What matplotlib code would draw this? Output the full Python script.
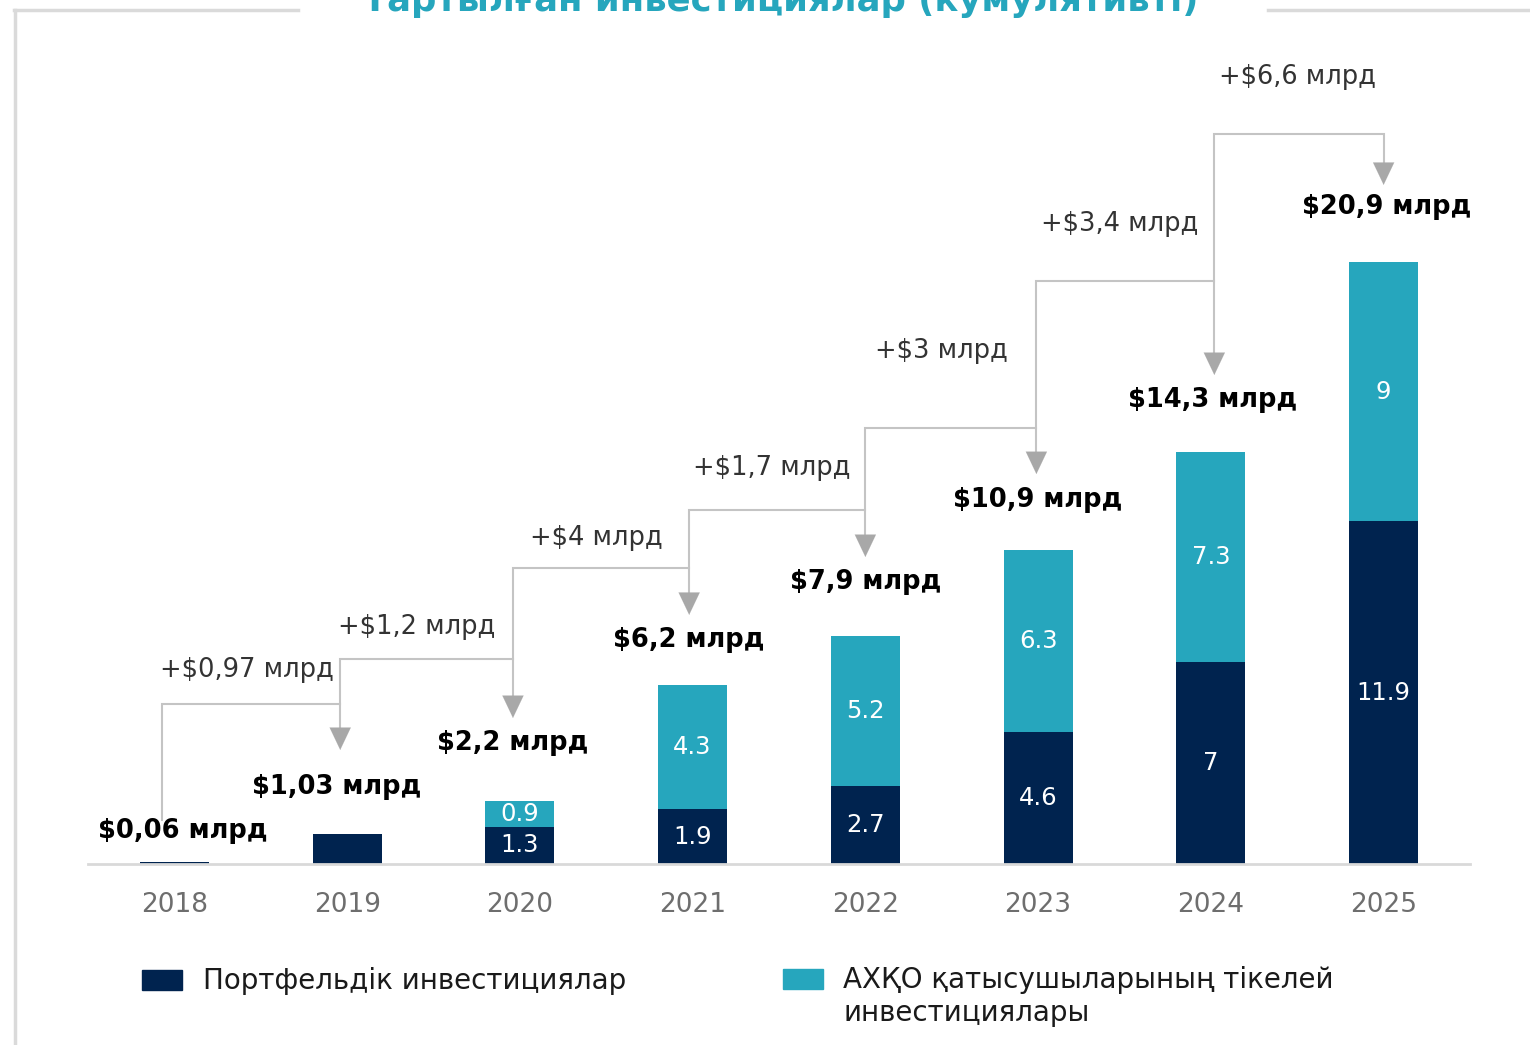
import matplotlib.pyplot as plt
from matplotlib.patches import Rectangle
from matplotlib.lines import Line2D
import numpy as np

plt.rcParams['font.family'] = ['DejaVu Sans']

years = ['2018', '2019', '2020', '2021', '2022', '2023', '2024', '2025']
portfolio = [0.06, 1.03, 1.3, 1.9, 2.7, 4.6, 7.0, 11.9]
direct = [0, 0, 0.9, 4.3, 5.2, 6.3, 7.3, 9.0]
total_labels = ['$0,06 млрд', '$1,03 млрд', '$2,2 млрд', '$6,2 млрд',
                '$7,9 млрд', '$10,9 млрд', '$14,3 млрд', '$20,9 млрд']
growth_labels = ['+$0,97 млрд', '+$1,2 млрд', '+$4 млрд', '+$1,7 млрд',
                 '+$3 млрд', '+$3,4 млрд', '+$6,6 млрд']
series_names = ['Портфельдік инвестициялар',
                'АХҚО қатысушыларының тікелей\nинвестициялары']
title = 'Тартылған инвестициялар (кумулятивті)'

# annotation layout (data units)
total_label_y = [1.15, 2.67, 4.20, 7.78, 9.79, 12.64, 16.11, 22.81]
total_label_dx = [0.05, -0.06, -0.04, -0.02, 0, 0, 0.01, 0.02]
conn_x = [-0.07, 0.96, 1.96, 2.98, 4.0, 4.99, 6.02, 7.0]
bracket_top = [5.56, 7.12, 10.28, 12.29, 15.14, 20.24, 25.35]
arrow_tip = [3.96, 5.07, 8.65, 10.66, 13.54, 16.98, 23.58]
growth_xy = [(0.42, 6.74), (1.40, 8.23), (2.44, 11.32), (3.46, 13.75),
             (4.44, 17.81), (5.47, 22.22), (6.50, 27.33)]

dark = '#00234F'
teal = '#26A6BD'
line_gray = '#C4C4C4'
head_gray = '#A8A8A8'

fig = plt.figure(figsize=(15.3, 10.45), dpi=100)
ax = fig.add_axes([88 / 1530, 1 - 864 / 1045, 1382 / 1530, 824 / 1045])

x = np.arange(len(years))
w = 0.4
ax.bar(x, portfolio, w, color=dark, zorder=2)
ax.bar(x, direct, w, bottom=portfolio, color=teal, zorder=2)

for i in range(len(years)):
    if direct[i] > 0:
        ax.text(x[i], portfolio[i] / 2, f'{portfolio[i]:g}', ha='center', va='center',
                color='white', fontsize=17.5)
        ax.text(x[i], portfolio[i] + direct[i] / 2, f'{direct[i]:g}', ha='center',
                va='center', color='white', fontsize=17.5)
    ax.text(x[i] + total_label_dx[i], total_label_y[i], total_labels[i], ha='center',
            va='center', fontsize=18.5, fontweight='bold', color='black')

# connectors between years
for i in range(len(years) - 1):
    x0, x1 = conn_x[i], conn_x[i + 1]
    y0 = 1.53 if i == 0 else bracket_top[i - 1]
    ax.plot([x0, x0, x1, x1], [y0, bracket_top[i], bracket_top[i], arrow_tip[i] + 0.5],
            color=line_gray, lw=1.5, zorder=1, solid_joinstyle='miter')
    ax.annotate('', xy=(x1, arrow_tip[i]), xytext=(x1, arrow_tip[i] + 0.55),
                arrowprops=dict(arrowstyle='-|>,head_length=0.8,head_width=0.38',
                                color=head_gray, lw=0.1, mutation_scale=20,
                                shrinkA=0, shrinkB=0))
    gx, gy = growth_xy[i]
    ax.text(gx, gy, growth_labels[i], ha='center', va='center', fontsize=18.5,
            color='#333333')

ax.set_xlim(-0.5, 7.5)
ax.set_ylim(0, 824 / 28.8)
ax.set_xticks(x)
ax.set_xticklabels(years, fontsize=19, color='#6E6E6E')
ax.tick_params(axis='x', length=0, pad=20)
ax.set_yticks([])
for s in ['left', 'right', 'top']:
    ax.spines[s].set_visible(False)
ax.spines['bottom'].set_color('#D9D9D9')
ax.spines['bottom'].set_linewidth(2)
ax.spines['bottom'].set_zorder(3)

# legend drawn by hand
H = 1045
fig.add_artist(Rectangle((142 / 1530, 1 - 990 / H), 40 / 1530, 20 / H,
                         transform=fig.transFigure, color=dark))
fig.text(203 / 1530, 1 - 981 / H, series_names[0], fontsize=20, va='center',
         color='#1A1A1A')
fig.add_artist(Rectangle((783 / 1530, 1 - 989 / H), 40 / 1530, 20 / H,
                         transform=fig.transFigure, color=teal))
for k, line in enumerate(series_names[1].split('\n')):
    fig.text(843 / 1530, 1 - (980 + 33 * k) / H, line, fontsize=20, va='center',
             color='#1A1A1A')

# frame and cut-off title
fig.add_artist(Line2D([15 / 1530, 15 / 1530], [1 - 10 / H, 0], transform=fig.transFigure,
                      color='#DADADA', lw=2.5))
fig.add_artist(Line2D([14 / 1530, 298 / 1530], [1 - 10 / H, 1 - 10 / H],
                      transform=fig.transFigure, color='#DADADA', lw=2.5))
fig.add_artist(Line2D([1268 / 1530, 1], [1 - 10 / H, 1 - 10 / H],
                      transform=fig.transFigure, color='#DADADA', lw=2.5))
fig.text(781 / 1530, 1 - 11 / H, title, ha='center', va='baseline', fontsize=25.5,
         fontweight='bold', color=teal)

fig.savefig('out.png', dpi=100)
